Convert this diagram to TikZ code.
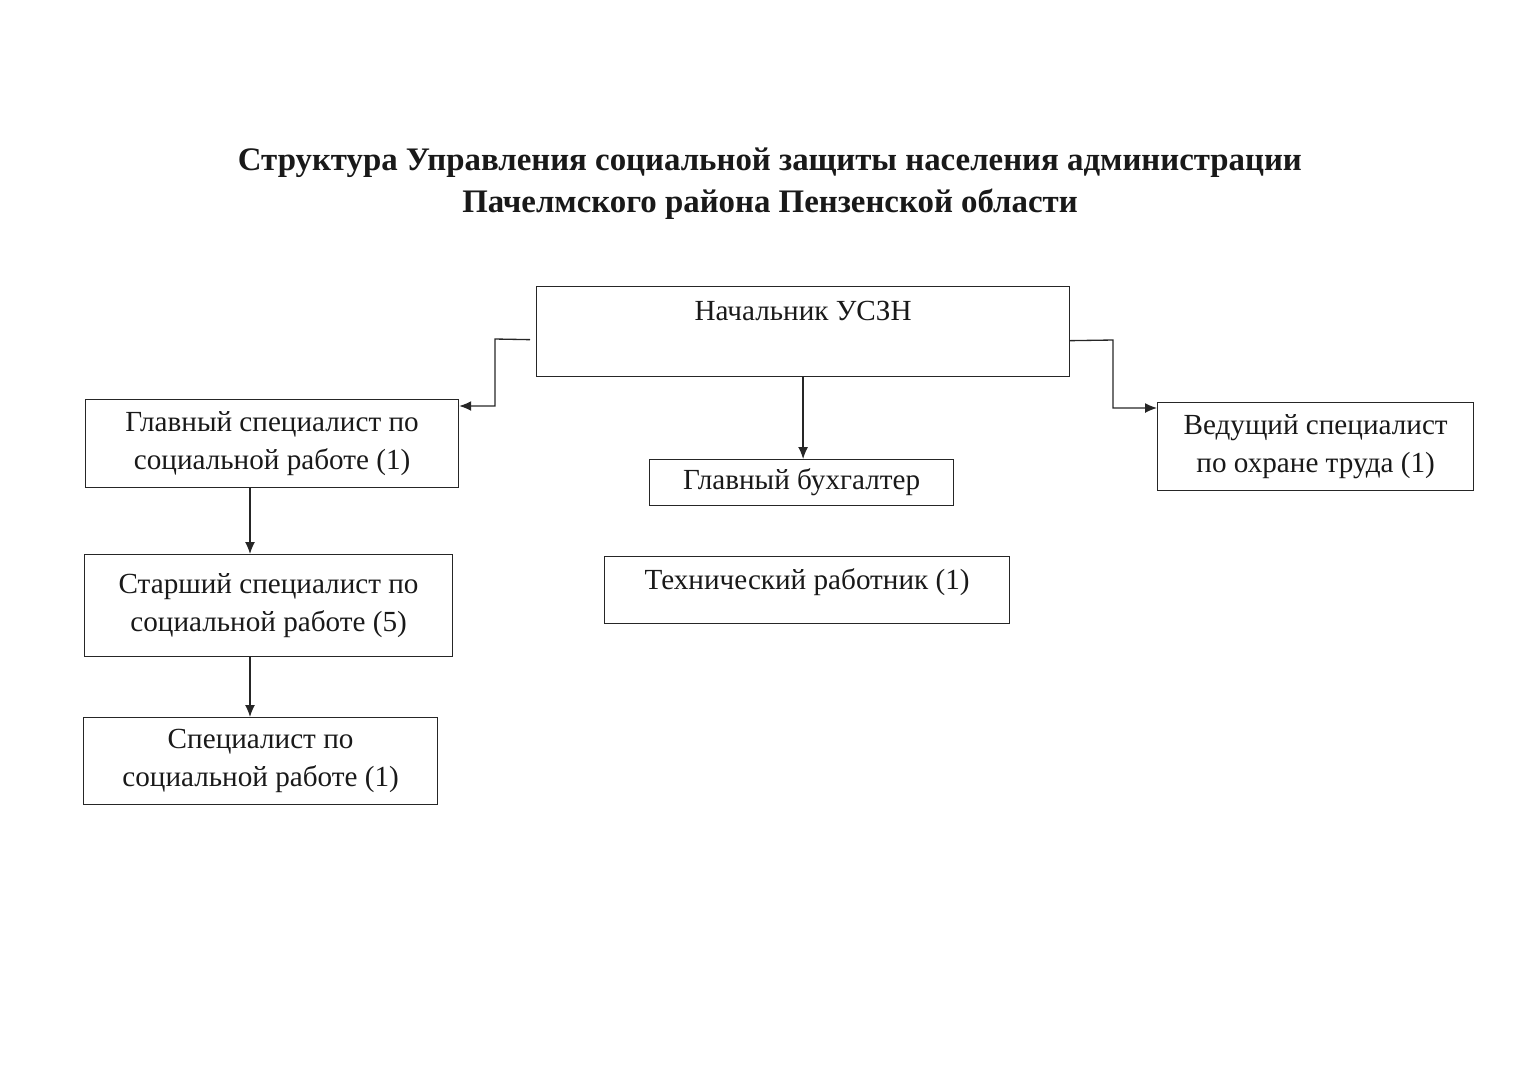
\documentclass[tikz,border=0pt]{standalone}
\usepackage{fontspec}
\setmainfont{Liberation Serif}
\usetikzlibrary{arrows.meta}
\tikzset{
    tnode/.style = {align=center, inner sep=0pt, text centered, text=black!90},
    post/.style = {tnode, rectangle, draw=black!85, line width=0.75pt, anchor=north west, font=\fontsize{16.6}{21.6}\selectfont},
    titlenode/.style = {tnode, font=\fontsize{18.7}{23.8}\selectfont\bfseries}
}

\begin{document}
\begin{tikzpicture}
            [x=0.02cm, y=-0.02cm, ->, >={Latex[length=0.24cm, width=0.2cm]}, line width=0.75pt, draw=black!85]

            \useasboundingbox (0,0) rectangle (1528,1080);

            \node [titlenode] (title) at (770,184) {Структура Управления социальной защиты населения администрации\\Пачелмского района Пензенской области};

            % top level
            \node [post, minimum width=10.66cm, minimum height=1.8cm, text height=0.68cm, text depth=1.12cm] (head) at (536,286) {Начальник УСЗН};

            % second level
            \node [post, minimum width=7.46cm, minimum height=1.76cm] (main) at (85,399) {Главный специалист по\\социальной работе (1)};
            \node [post, minimum width=6.08cm, minimum height=0.92cm] (acct) at (649,459) {Главный бухгалтер};
            \node [post, minimum width=6.32cm, minimum height=1.76cm] (lead) at (1157,402) {Ведущий специалист\\по охране труда (1)};

            % lower levels
            \node [post, minimum width=7.36cm, minimum height=2.04cm] (senior) at (84,554) {Старший специалист по\\социальной работе (5)};
            \node [post, minimum width=8.10cm, minimum height=1.34cm, text height=0.66cm, text depth=0.68cm] (tech) at (604,556) {Технический работник (1)};
            \node [post, minimum width=7.08cm, minimum height=1.74cm] (spec) at (83,717) {Специалист по\\социальной работе (1)};

            % connectors
            \coordinate (kl) at (495,339);
            \coordinate (kr) at (1113,340);
            \coordinate (cl) at (250,0);
            \draw ([xshift=-0.12cm, yshift=-0.16cm]head.west) -- (kl) |- ([yshift=-0.14cm]main.north east);
            \draw ([yshift=-0.18cm]head.east) -- (kr) |- ([yshift=-0.12cm]lead.north west);
            \draw (head.south) -- (head.south |- acct.north);
            \draw (main.south -| cl) -- (senior.north -| cl);
            \draw (senior.south -| cl) -- (spec.north -| cl);
\end{tikzpicture}
\end{document}
